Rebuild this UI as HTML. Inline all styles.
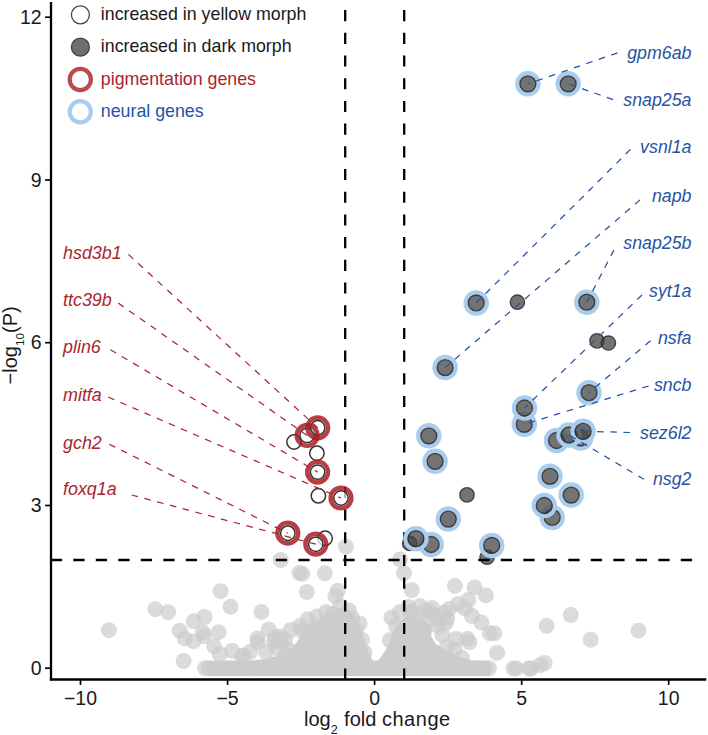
<!DOCTYPE html>
<html><head><meta charset="utf-8"><style>
html,body{margin:0;padding:0;background:#fff;}
svg{display:block;}
text{font-family:"Liberation Sans",sans-serif;}
</style></head><body>
<svg width="708" height="735" viewBox="0 0 708 735">
<rect width="708" height="735" fill="#fff"/>
<g fill="#cccccc" fill-opacity="0.7">
<circle cx="108.9" cy="630.2" r="8"/>
<circle cx="155.3" cy="609.2" r="8"/>
<circle cx="168.2" cy="612.2" r="8"/>
<circle cx="179.7" cy="630.7" r="8"/>
<circle cx="184.7" cy="638.4" r="8"/>
<circle cx="193.7" cy="621.3" r="8"/>
<circle cx="193.7" cy="641.2" r="8"/>
<circle cx="183.6" cy="661.0" r="8"/>
<circle cx="204.5" cy="617.0" r="8"/>
<circle cx="202.8" cy="632.2" r="8"/>
<circle cx="203.9" cy="636.2" r="8"/>
<circle cx="218.6" cy="632.2" r="8"/>
<circle cx="214.1" cy="646.3" r="8"/>
<circle cx="219.7" cy="654.2" r="8"/>
<circle cx="232.1" cy="650.8" r="8"/>
<circle cx="242.3" cy="656.5" r="8"/>
<circle cx="220.6" cy="591.2" r="8"/>
<circle cx="230.5" cy="606.8" r="8"/>
<circle cx="261.5" cy="611.9" r="8"/>
<circle cx="243.4" cy="655.4" r="8"/>
<circle cx="268.8" cy="629.4" r="8"/>
<circle cx="257.5" cy="638.4" r="8"/>
<circle cx="257.5" cy="642.4" r="8"/>
<circle cx="275.0" cy="637.3" r="8"/>
<circle cx="273.9" cy="641.8" r="8"/>
<circle cx="290.8" cy="630.0" r="8"/>
<circle cx="288.6" cy="649.7" r="8"/>
<circle cx="285.3" cy="654.9" r="8"/>
<circle cx="280.7" cy="560.0" r="8"/>
<circle cx="299.5" cy="572.9" r="8"/>
<circle cx="302.4" cy="573.8" r="8"/>
<circle cx="324.8" cy="573.3" r="8"/>
<circle cx="306.8" cy="592.0" r="8"/>
<circle cx="337.7" cy="590.7" r="8"/>
<circle cx="335.4" cy="596.4" r="8"/>
<circle cx="307.8" cy="619.2" r="8"/>
<circle cx="316.8" cy="616.6" r="8"/>
<circle cx="332.6" cy="613.9" r="8"/>
<circle cx="349.0" cy="610.5" r="8"/>
<circle cx="359.7" cy="623.5" r="8"/>
<circle cx="362.0" cy="639.9" r="8"/>
<circle cx="364.5" cy="652.3" r="8"/>
<circle cx="302.6" cy="631.0" r="8"/>
<circle cx="280.0" cy="636.6" r="8"/>
<circle cx="346.0" cy="546.8" r="8"/>
<circle cx="400.0" cy="559.5" r="8"/>
<circle cx="404.0" cy="573.2" r="8"/>
<circle cx="411.8" cy="590.0" r="8"/>
<circle cx="408.4" cy="607.0" r="8"/>
<circle cx="391.5" cy="617.7" r="8"/>
<circle cx="389.8" cy="640.3" r="8"/>
<circle cx="425.4" cy="610.9" r="8"/>
<circle cx="444.6" cy="612.6" r="8"/>
<circle cx="420.8" cy="626.2" r="8"/>
<circle cx="442.3" cy="635.2" r="8"/>
<circle cx="446.8" cy="646.5" r="8"/>
<circle cx="454.9" cy="585.8" r="8"/>
<circle cx="474.6" cy="587.5" r="8"/>
<circle cx="485.9" cy="595.4" r="8"/>
<circle cx="468.4" cy="600.0" r="8"/>
<circle cx="458.2" cy="603.9" r="8"/>
<circle cx="465.0" cy="608.4" r="8"/>
<circle cx="471.8" cy="615.8" r="8"/>
<circle cx="481.4" cy="622.5" r="8"/>
<circle cx="489.9" cy="633.3" r="8"/>
<circle cx="494.4" cy="633.3" r="8"/>
<circle cx="449.2" cy="609.0" r="8"/>
<circle cx="447.0" cy="618.6" r="8"/>
<circle cx="445.8" cy="623.1" r="8"/>
<circle cx="434.5" cy="615.2" r="8"/>
<circle cx="456.0" cy="638.9" r="8"/>
<circle cx="467.3" cy="638.9" r="8"/>
<circle cx="469.5" cy="642.3" r="8"/>
<circle cx="497.1" cy="652.8" r="8"/>
<circle cx="454.5" cy="649.2" r="8"/>
<circle cx="462.0" cy="658.0" r="8"/>
<circle cx="546.6" cy="625.8" r="8"/>
<circle cx="570.8" cy="615.1" r="8"/>
<circle cx="590.7" cy="639.7" r="8"/>
<circle cx="513.5" cy="668.4" r="8"/>
<circle cx="516.3" cy="668.4" r="8"/>
<circle cx="528.8" cy="668.4" r="8"/>
<circle cx="531.0" cy="668.6" r="8"/>
<circle cx="540.0" cy="665.2" r="8"/>
<circle cx="544.6" cy="663.0" r="8"/>
<circle cx="638.4" cy="630.7" r="8"/>
<circle cx="352.0" cy="618.0" r="8"/>
<circle cx="356.0" cy="630.0" r="8"/>
<circle cx="300.0" cy="626.0" r="8"/>
<circle cx="285.0" cy="640.0" r="8"/>
<circle cx="326.0" cy="612.0" r="8"/>
<circle cx="340.0" cy="606.0" r="8"/>
<circle cx="396.0" cy="626.0" r="8"/>
<circle cx="410.0" cy="612.0" r="8"/>
<circle cx="430.0" cy="612.0" r="8"/>
<circle cx="438.0" cy="620.0" r="8"/>
<circle cx="281.0" cy="641.0" r="8"/>
<circle cx="266.0" cy="652.0" r="8"/>
<circle cx="277.0" cy="648.0" r="8"/>
<circle cx="250.0" cy="652.0" r="8"/>
<circle cx="412.0" cy="612.0" r="8"/>
<circle cx="420.0" cy="606.0" r="8"/>
<circle cx="432.0" cy="608.0" r="8"/>
<circle cx="400.0" cy="612.0" r="8"/>
<circle cx="438.0" cy="626.0" r="8"/>
<circle cx="426.0" cy="621.0" r="8"/>
<circle cx="416.0" cy="622.0" r="8"/>
<circle cx="404.0" cy="630.0" r="8"/>
<circle cx="398.0" cy="640.0" r="8"/>
<circle cx="205.0" cy="668.3" r="8"/>
<circle cx="209.0" cy="668.3" r="8"/>
<circle cx="213.0" cy="668.3" r="8"/>
<circle cx="217.0" cy="668.3" r="8"/>
<circle cx="221.0" cy="668.3" r="8"/>
<circle cx="225.0" cy="668.3" r="8"/>
<circle cx="229.0" cy="668.3" r="8"/>
<circle cx="233.0" cy="668.3" r="8"/>
<circle cx="237.0" cy="668.3" r="8"/>
<circle cx="241.0" cy="668.3" r="8"/>
<circle cx="245.0" cy="668.3" r="8"/>
<circle cx="249.0" cy="668.3" r="8"/>
<circle cx="253.0" cy="668.3" r="8"/>
<circle cx="257.0" cy="668.3" r="8"/>
<circle cx="261.0" cy="668.3" r="8"/>
<circle cx="265.0" cy="668.3" r="8"/>
<circle cx="269.0" cy="668.3" r="8"/>
<circle cx="273.0" cy="668.3" r="8"/>
<circle cx="277.0" cy="668.3" r="8"/>
<circle cx="281.0" cy="668.3" r="8"/>
<circle cx="285.0" cy="668.3" r="8"/>
<circle cx="289.0" cy="668.3" r="8"/>
<circle cx="293.0" cy="668.3" r="8"/>
<circle cx="297.0" cy="668.3" r="8"/>
<circle cx="301.0" cy="668.3" r="8"/>
<circle cx="305.0" cy="668.3" r="8"/>
<circle cx="309.0" cy="668.3" r="8"/>
<circle cx="313.0" cy="668.3" r="8"/>
<circle cx="317.0" cy="668.3" r="8"/>
<circle cx="321.0" cy="668.3" r="8"/>
<circle cx="325.0" cy="668.3" r="8"/>
<circle cx="329.0" cy="668.3" r="8"/>
<circle cx="333.0" cy="668.3" r="8"/>
<circle cx="337.0" cy="668.3" r="8"/>
<circle cx="341.0" cy="668.3" r="8"/>
<circle cx="345.0" cy="668.3" r="8"/>
<circle cx="349.0" cy="668.3" r="8"/>
<circle cx="353.0" cy="668.3" r="8"/>
<circle cx="357.0" cy="668.3" r="8"/>
<circle cx="361.0" cy="668.3" r="8"/>
<circle cx="365.0" cy="668.3" r="8"/>
<circle cx="369.0" cy="668.3" r="8"/>
<circle cx="373.0" cy="668.3" r="8"/>
<circle cx="377.0" cy="668.3" r="8"/>
<circle cx="381.0" cy="668.3" r="8"/>
<circle cx="385.0" cy="668.3" r="8"/>
<circle cx="389.0" cy="668.3" r="8"/>
<circle cx="393.0" cy="668.3" r="8"/>
<circle cx="397.0" cy="668.3" r="8"/>
<circle cx="401.0" cy="668.3" r="8"/>
<circle cx="405.0" cy="668.3" r="8"/>
<circle cx="409.0" cy="668.3" r="8"/>
<circle cx="413.0" cy="668.3" r="8"/>
<circle cx="417.0" cy="668.3" r="8"/>
<circle cx="421.0" cy="668.3" r="8"/>
<circle cx="425.0" cy="668.3" r="8"/>
<circle cx="429.0" cy="668.3" r="8"/>
<circle cx="433.0" cy="668.3" r="8"/>
<circle cx="437.0" cy="668.3" r="8"/>
<circle cx="441.0" cy="668.3" r="8"/>
<circle cx="445.0" cy="668.3" r="8"/>
<circle cx="449.0" cy="668.3" r="8"/>
<circle cx="453.0" cy="668.3" r="8"/>
<circle cx="457.0" cy="668.3" r="8"/>
<circle cx="461.0" cy="668.3" r="8"/>
<circle cx="465.0" cy="668.3" r="8"/>
<circle cx="469.0" cy="668.3" r="8"/>
<circle cx="473.0" cy="668.3" r="8"/>
<circle cx="477.0" cy="668.3" r="8"/>
<circle cx="481.0" cy="668.3" r="8"/>
<circle cx="485.0" cy="668.3" r="8"/>
<circle cx="489.0" cy="668.3" r="8"/>
</g>
<polygon fill="#cccccc" points="208,662 250,661 265,659 280,655 290,650 297,642 302,632 309,624 319,619 329,613 337,609 345,607 351,612 356,620 361,630 365,642 369,654 373,661 378,661 383,654 388,646 392,634 397,624 404,618 414,617 424,620 430,624 432,630 431,636 436,644 446,650 458,656 470,660 490,662 490,676 208,676"/>
<g fill="#444" fill-opacity="0.75" stroke="#2a2a2a" stroke-opacity="0.85" stroke-width="1.3">
<circle cx="517.4" cy="302.2" r="7.2"/>
<circle cx="597.0" cy="340.9" r="7.2"/>
<circle cx="608.4" cy="343.0" r="7.2"/>
<circle cx="467.0" cy="494.9" r="7.2"/>
<circle cx="409.7" cy="543.4" r="7.2"/>
<circle cx="487.1" cy="557.2" r="7.2"/>
</g>
<g stroke="#000" stroke-width="2.3" stroke-dasharray="11.1 11.6" fill="none">
<line x1="345.2" y1="679.5" x2="345.2" y2="0"/>
<line x1="404.2" y1="679.5" x2="404.2" y2="0"/>
</g>
<line x1="50.8" y1="560" x2="702" y2="560" stroke="#000" stroke-width="2.3" stroke-dasharray="11.3 11.2"/>
<circle cx="527.9" cy="83.8" r="10.6" fill="none" stroke="#a9cdee" stroke-width="4.3"/>
<circle cx="527.9" cy="83.8" r="7.95" fill="#444" fill-opacity="0.75" stroke="#2a2a2a" stroke-opacity="0.85" stroke-width="1.4"/>
<circle cx="568.2" cy="83.8" r="10.6" fill="none" stroke="#a9cdee" stroke-width="4.3"/>
<circle cx="568.2" cy="83.8" r="7.95" fill="#444" fill-opacity="0.75" stroke="#2a2a2a" stroke-opacity="0.85" stroke-width="1.4"/>
<circle cx="476.2" cy="302.9" r="10.6" fill="none" stroke="#a9cdee" stroke-width="4.3"/>
<circle cx="476.2" cy="302.9" r="7.95" fill="#444" fill-opacity="0.75" stroke="#2a2a2a" stroke-opacity="0.85" stroke-width="1.4"/>
<circle cx="445.1" cy="367.6" r="10.6" fill="none" stroke="#a9cdee" stroke-width="4.3"/>
<circle cx="445.1" cy="367.6" r="7.95" fill="#444" fill-opacity="0.75" stroke="#2a2a2a" stroke-opacity="0.85" stroke-width="1.4"/>
<circle cx="586.8" cy="302.2" r="10.6" fill="none" stroke="#a9cdee" stroke-width="4.3"/>
<circle cx="586.8" cy="302.2" r="7.95" fill="#444" fill-opacity="0.75" stroke="#2a2a2a" stroke-opacity="0.85" stroke-width="1.4"/>
<circle cx="524.3" cy="424.3" r="10.6" fill="none" stroke="#a9cdee" stroke-width="4.3"/>
<circle cx="524.3" cy="424.3" r="7.95" fill="#444" fill-opacity="0.75" stroke="#2a2a2a" stroke-opacity="0.85" stroke-width="1.4"/>
<circle cx="524.5" cy="408.0" r="10.6" fill="none" stroke="#a9cdee" stroke-width="4.3"/>
<circle cx="524.5" cy="408.0" r="7.95" fill="#444" fill-opacity="0.75" stroke="#2a2a2a" stroke-opacity="0.85" stroke-width="1.4"/>
<circle cx="589.0" cy="392.7" r="10.6" fill="none" stroke="#a9cdee" stroke-width="4.3"/>
<circle cx="589.0" cy="392.7" r="7.95" fill="#444" fill-opacity="0.75" stroke="#2a2a2a" stroke-opacity="0.85" stroke-width="1.4"/>
<circle cx="580.6" cy="438.0" r="10.6" fill="none" stroke="#a9cdee" stroke-width="4.3"/>
<circle cx="580.6" cy="438.0" r="7.95" fill="#444" fill-opacity="0.75" stroke="#2a2a2a" stroke-opacity="0.85" stroke-width="1.4"/>
<circle cx="556.5" cy="440.5" r="10.6" fill="none" stroke="#a9cdee" stroke-width="4.3"/>
<circle cx="556.5" cy="440.5" r="7.95" fill="#444" fill-opacity="0.75" stroke="#2a2a2a" stroke-opacity="0.85" stroke-width="1.4"/>
<circle cx="569.0" cy="435.0" r="10.6" fill="none" stroke="#a9cdee" stroke-width="4.3"/>
<circle cx="569.0" cy="435.0" r="7.95" fill="#444" fill-opacity="0.75" stroke="#2a2a2a" stroke-opacity="0.85" stroke-width="1.4"/>
<circle cx="583.1" cy="431.3" r="10.6" fill="none" stroke="#a9cdee" stroke-width="4.3"/>
<circle cx="583.1" cy="431.3" r="7.95" fill="#444" fill-opacity="0.75" stroke="#2a2a2a" stroke-opacity="0.85" stroke-width="1.4"/>
<circle cx="428.8" cy="435.8" r="10.6" fill="none" stroke="#a9cdee" stroke-width="4.3"/>
<circle cx="428.8" cy="435.8" r="7.95" fill="#444" fill-opacity="0.75" stroke="#2a2a2a" stroke-opacity="0.85" stroke-width="1.4"/>
<circle cx="435.1" cy="461.3" r="10.6" fill="none" stroke="#a9cdee" stroke-width="4.3"/>
<circle cx="435.1" cy="461.3" r="7.95" fill="#444" fill-opacity="0.75" stroke="#2a2a2a" stroke-opacity="0.85" stroke-width="1.4"/>
<circle cx="448.3" cy="519.1" r="10.6" fill="none" stroke="#a9cdee" stroke-width="4.3"/>
<circle cx="448.3" cy="519.1" r="7.95" fill="#444" fill-opacity="0.75" stroke="#2a2a2a" stroke-opacity="0.85" stroke-width="1.4"/>
<circle cx="431.2" cy="544.5" r="10.6" fill="none" stroke="#a9cdee" stroke-width="4.3"/>
<circle cx="431.2" cy="544.5" r="7.95" fill="#444" fill-opacity="0.75" stroke="#2a2a2a" stroke-opacity="0.85" stroke-width="1.4"/>
<circle cx="415.9" cy="538.7" r="10.6" fill="none" stroke="#a9cdee" stroke-width="4.3"/>
<circle cx="415.9" cy="538.7" r="7.95" fill="#444" fill-opacity="0.75" stroke="#2a2a2a" stroke-opacity="0.85" stroke-width="1.4"/>
<circle cx="491.7" cy="545.4" r="10.6" fill="none" stroke="#a9cdee" stroke-width="4.3"/>
<circle cx="491.7" cy="545.4" r="7.95" fill="#444" fill-opacity="0.75" stroke="#2a2a2a" stroke-opacity="0.85" stroke-width="1.4"/>
<circle cx="550.0" cy="476.3" r="10.6" fill="none" stroke="#a9cdee" stroke-width="4.3"/>
<circle cx="550.0" cy="476.3" r="7.95" fill="#444" fill-opacity="0.75" stroke="#2a2a2a" stroke-opacity="0.85" stroke-width="1.4"/>
<circle cx="571.2" cy="495.1" r="10.6" fill="none" stroke="#a9cdee" stroke-width="4.3"/>
<circle cx="571.2" cy="495.1" r="7.95" fill="#444" fill-opacity="0.75" stroke="#2a2a2a" stroke-opacity="0.85" stroke-width="1.4"/>
<circle cx="552.2" cy="517.4" r="10.6" fill="none" stroke="#a9cdee" stroke-width="4.3"/>
<circle cx="552.2" cy="517.4" r="7.95" fill="#444" fill-opacity="0.75" stroke="#2a2a2a" stroke-opacity="0.85" stroke-width="1.4"/>
<circle cx="544.3" cy="505.5" r="10.6" fill="none" stroke="#a9cdee" stroke-width="4.3"/>
<circle cx="544.3" cy="505.5" r="7.95" fill="#444" fill-opacity="0.75" stroke="#2a2a2a" stroke-opacity="0.85" stroke-width="1.4"/>
<g fill="#fff" fill-opacity="0.7" stroke="#333" stroke-width="1.5">
<circle cx="294.0" cy="442.0" r="7.2"/>
<circle cx="316.9" cy="453.2" r="7.2"/>
<circle cx="318.4" cy="495.8" r="7.2"/>
<circle cx="325.1" cy="538.3" r="7.2"/>
<circle cx="307.1" cy="435.4" r="7.2"/>
<circle cx="317.7" cy="427.8" r="7.2"/>
<circle cx="317.6" cy="472.1" r="7.2"/>
<circle cx="341.0" cy="498.0" r="7.2"/>
<circle cx="287.8" cy="533.2" r="7.2"/>
<circle cx="315.8" cy="544.2" r="7.2"/>
</g>
<g fill="none" stroke="#ab1c25" stroke-opacity="0.85" stroke-width="4.5">
<circle cx="307.1" cy="435.4" r="10.35"/>
<circle cx="317.7" cy="427.8" r="10.35"/>
<circle cx="317.6" cy="472.1" r="10.35"/>
<circle cx="341.0" cy="498.0" r="10.35"/>
<circle cx="287.8" cy="533.2" r="10.35"/>
<circle cx="315.8" cy="544.2" r="10.35"/>
</g>
<g stroke="#2653a3" stroke-width="1.25" stroke-dasharray="6.6 6.6" fill="none">
<line x1="617.5" y1="52.9" x2="527.9" y2="83.8"/>
<line x1="613.1" y1="99.6" x2="568.2" y2="83.8"/>
<line x1="630.5" y1="149.4" x2="476.2" y2="302.9"/>
<line x1="640.0" y1="199.9" x2="445.1" y2="367.6"/>
<line x1="613.9" y1="250.1" x2="586.8" y2="302.2"/>
<line x1="642.0" y1="295.0" x2="524.5" y2="408.0"/>
<line x1="650.5" y1="340.7" x2="589.0" y2="392.7"/>
<line x1="648.6" y1="386.0" x2="524.3" y2="424.3"/>
<line x1="630.1" y1="432.5" x2="583.0" y2="431.2"/>
<line x1="643.9" y1="479.3" x2="569.0" y2="435.0"/>
</g>
<g stroke="#a8262f" stroke-width="1.25" stroke-dasharray="6.6 6.6" fill="none">
<line x1="128.4" y1="254.4" x2="317.7" y2="427.8"/>
<line x1="118.2" y1="303.1" x2="307.1" y2="435.4"/>
<line x1="110.4" y1="349.7" x2="317.6" y2="472.1"/>
<line x1="108.3" y1="397.1" x2="341.0" y2="498.0"/>
<line x1="109.3" y1="444.2" x2="287.8" y2="533.2"/>
<line x1="131.6" y1="495.0" x2="315.8" y2="544.2"/>
</g>
<g font-size="17.8" font-style="italic" fill="#2653a3" text-anchor="end">
<text x="691.5" y="58.8">gpm6ab</text>
<text x="691.5" y="105.5">snap25a</text>
<text x="691.5" y="153.4">vsnl1a</text>
<text x="691.5" y="201.5">napb</text>
<text x="691.5" y="248.5">snap25b</text>
<text x="691.5" y="296.5">syt1a</text>
<text x="691.5" y="343.6">nsfa</text>
<text x="691.5" y="390.6">sncb</text>
<text x="691.5" y="438.7">sez6l2</text>
<text x="691.5" y="484.9">nsg2</text>
</g>
<g font-size="17.9" font-style="italic" fill="#a8262f">
<text x="63" y="258.6">hsd3b1</text>
<text x="63" y="305.8">ttc39b</text>
<text x="63" y="352.9">plin6</text>
<text x="63" y="401.4">mitfa</text>
<text x="63" y="448.8">gch2</text>
<text x="63" y="495.4">foxq1a</text>
</g>
<g stroke="#000" fill="none">
<line x1="51" y1="1.9" x2="51" y2="680.6" stroke-width="2.3"/>
<line x1="49.9" y1="679.5" x2="706.3" y2="679.5" stroke-width="2.3"/>
<line x1="45.1" y1="668.2" x2="51" y2="668.2" stroke-width="1.7"/>
<line x1="45.1" y1="505.5" x2="51" y2="505.5" stroke-width="1.7"/>
<line x1="45.1" y1="342.7" x2="51" y2="342.7" stroke-width="1.7"/>
<line x1="45.1" y1="180.0" x2="51" y2="180.0" stroke-width="1.7"/>
<line x1="45.1" y1="17.2" x2="51" y2="17.2" stroke-width="1.7"/>
<line x1="80.5" y1="679.5" x2="80.5" y2="684.9" stroke-width="1.7"/>
<line x1="227.6" y1="679.5" x2="227.6" y2="684.9" stroke-width="1.7"/>
<line x1="374.6" y1="679.5" x2="374.6" y2="684.9" stroke-width="1.7"/>
<line x1="521.7" y1="679.5" x2="521.7" y2="684.9" stroke-width="1.7"/>
<line x1="668.7" y1="679.5" x2="668.7" y2="684.9" stroke-width="1.7"/>
</g>
<g font-size="19.5" fill="#1a1a1a" text-anchor="end">
<text x="41.6" y="674.9">0</text>
<text x="41.6" y="512.2">3</text>
<text x="41.6" y="349.4">6</text>
<text x="41.6" y="186.7">9</text>
<text x="41.6" y="23.9">12</text>
</g>
<g font-size="19.5" fill="#1a1a1a" text-anchor="middle">
<text x="80.5" y="704.7">−10</text>
<text x="227.6" y="704.7">−5</text>
<text x="374.6" y="704.7">0</text>
<text x="521.7" y="704.7">5</text>
<text x="668.7" y="704.7">10</text>
</g>
<text x="304.0" y="726.2" font-size="20" fill="#1a1a1a">log<tspan font-size="12.6" dy="7.3">2</tspan><tspan dy="-7.3" dx="0.8"> fold </tspan><tspan letter-spacing="0.55">change</tspan></text>
<text transform="translate(16.7,384.4) rotate(-90)" x="0" y="0" font-size="20" fill="#1a1a1a">−log<tspan font-size="11.8" dy="7.2">10</tspan><tspan dy="-7.2">(P)</tspan></text>
<circle cx="80.4" cy="14.85" r="9.0" fill="#fff" stroke="#444" stroke-width="1.3"/>
<circle cx="80.4" cy="47.15" r="9.0" fill="#6f6f6f" stroke="#444" stroke-width="1.3"/>
<circle cx="80.3" cy="79.5" r="10.6" fill="none" stroke="#b94a51" stroke-width="4.2"/>
<circle cx="80.3" cy="111.8" r="10.6" fill="none" stroke="#a9cdee" stroke-width="4.2"/>
<g font-size="17.8">
<text x="100.8" y="19.8" fill="#1a1a1a">increased in yellow morph</text>
<text x="100.8" y="51.8" fill="#1a1a1a">increased in dark morph</text>
<text x="100.8" y="84.8" fill="#a8262f">pigmentation genes</text>
<text x="100.8" y="116.7" fill="#2653a3">neural genes</text>
</g>
</svg></body></html>
